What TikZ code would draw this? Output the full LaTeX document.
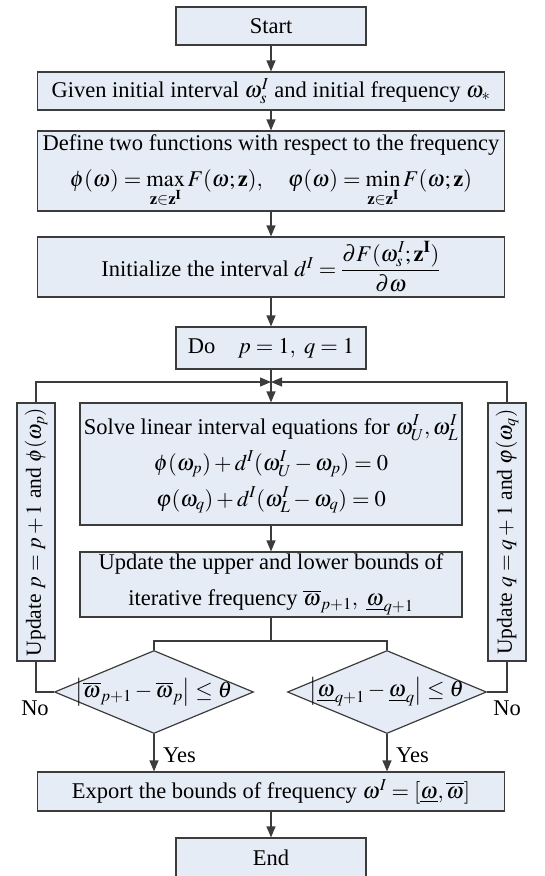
\documentclass[tikz,border=0pt]{standalone}
\usepackage{amsmath}
\usepackage{mathptmx}
\usepackage{fontspec}
\setmainfont{Liberation Serif}
\usetikzlibrary{shapes.geometric,arrows.meta}
\definecolor{boxfill}{RGB}{230,236,246}
\definecolor{edge}{RGB}{60,60,60}
\begin{document}
\begin{tikzpicture}[x=1pt,y=-1pt,
  font=\fontsize{22.5}{36}\selectfont,
  box/.style={draw=edge, fill=boxfill, line width=1.2pt, inner sep=0pt, align=center},
  dia/.style={diamond, draw=edge, fill=boxfill, line width=1.2pt, inner sep=0pt},
  conn/.style={draw=edge, line width=1.2pt},
  arr/.style={conn, -{Triangle[length=11pt,width=9pt]}},
  lbl/.style={inner sep=0pt},
  side/.style={lbl, rotate=90, font=\fontsize{21.5}{26}\selectfont}
]
\path[use as bounding box] (0,0) rectangle (544,876);

% main column
\node[box, minimum width=190pt, minimum height=38pt] (start) at (271,26) {Start};
\node[box, minimum width=467pt, minimum height=38pt] (given) at (271,91)
  {Given initial interval $\omega_s^I$ and initial frequency $\omega_*$};
\node[box, minimum width=467pt, minimum height=80pt] (define) at (271,171)
  {Define two functions with respect to the frequency\\
   $\phi(\omega)=\max\limits_{\mathbf{z}\in\mathbf{z}^{\mathbf{I}}}F(\omega;\mathbf{z}),\quad
    \varphi(\omega)=\min\limits_{\mathbf{z}\in\mathbf{z}^{\mathbf{I}}}F(\omega;\mathbf{z})$};
\node[box, minimum width=467pt, minimum height=60pt] (init) at (271,267)
  {Initialize the interval $d^I=\dfrac{\partial F(\omega_s^I;\mathbf{z}^{\mathbf{I}})}{\partial\omega}$};
\node[box, minimum width=190pt, minimum height=42pt] (do) at (271,348)
  {Do\quad $p=1,\ q=1$};
\node[box, minimum width=382pt, minimum height=122pt] (solve) at (271,464)
  {Solve linear interval equations for $\omega_U^I,\omega_L^I$\\
   $\phi(\omega_p)+d^I(\omega_U^I-\omega_p)=0$\\
   $\varphi(\omega_q)+d^I(\omega_L^I-\omega_q)=0$};
\node[box, minimum width=382pt, minimum height=65pt] (update) at (271,584.5)
  {Update the upper and lower bounds of\\
   iterative frequency $\overline{\omega}_{p+1},\ \underline{\omega}_{q+1}$};

% decisions
\node[dia, minimum width=199pt, minimum height=83pt] (d1) at (154,692) {};
\node[lbl] (t1) at (d1) {$\left|\overline{\omega}_{p+1}-\overline{\omega}_p\right|\le\theta$};
\node[dia, minimum width=199pt, minimum height=83pt] (d2) at (387,692) {};
\node[lbl] (t2) at (d2) {$\left|\underline{\omega}_{q+1}-\underline{\omega}_q\right|\le\theta$};

\node[box, minimum width=467pt, minimum height=39pt] (export) at (271,791.5)
  {Export the bounds of frequency $\omega^I=\left[\underline{\omega},\overline{\omega}\right]$};
\node[box, minimum width=190pt, minimum height=39pt] (end) at (271,857.5) {End};

% side update boxes
\node[box, minimum width=38pt, minimum height=258pt] (lp) at (36,532) {};
\node[side] (lpt) at (lp) {Update $p=p+1$ and $\phi(\omega_p)$};
\node[box, minimum width=38pt, minimum height=258pt] (rp) at (507,532) {};
\node[side] (rpt) at (rp) {Update $q=q+1$ and $\varphi(\omega_q)$};

% labels
\node[lbl, anchor=west] (yes1) at (163,755) {Yes};
\node[lbl, anchor=west] (yes2) at (396,755) {Yes};
\node[lbl] (no1) at (35,708) {No};
\node[lbl] (no2) at (507,708) {No};

% connectors
\coordinate (J) at (271,382);
\coordinate (S) at (271,641);
\draw[arr] (start) -- (given);
\draw[arr] (given) -- (define);
\draw[arr] (define) -- (init);
\draw[arr] (init) -- (do);
\draw[arr] (do) -- (solve);
\draw[arr] (lp.north) |- (J);
\draw[arr] (rp.north) |- (J);
\draw[arr] (solve) -- (update);
\draw[conn] (update.south) -- (S);
\draw[conn] (d1.north) |- (S) -| (d2.north);
\draw[conn] (d1.west) -| (lp.south);
\draw[conn] (d2.east) -| (rp.south);
\draw[arr] (d1.south) -- (d1.south |- export.north);
\draw[arr] (d2.south) -- (d2.south |- export.north);
\draw[arr] (export) -- (end);
\end{tikzpicture}
\end{document}
